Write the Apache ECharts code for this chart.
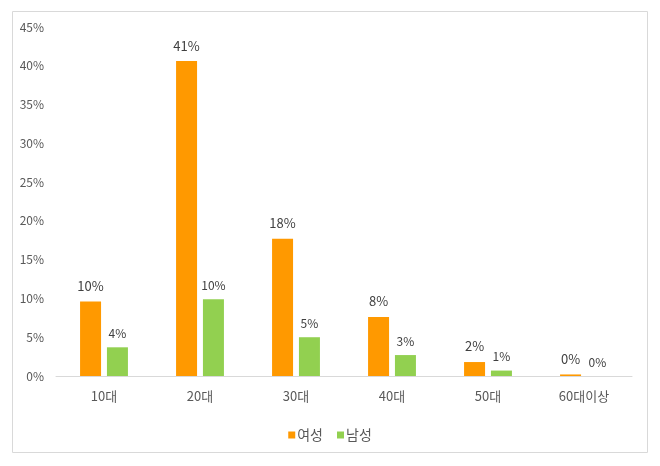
<!DOCTYPE html>
<html><head><meta charset="utf-8">
<script src="https://cdn.jsdelivr.net/npm/echarts@6/dist/echarts.min.js"></script>
<style>html,body{margin:0;padding:0;background:#fff}#c{width:660px;height:466px}</style>
</head><body><div id="c"></div>
<script>
const categories = ['10대','20대','30대','40대','50대','60대이상'];
const female = [9.6, 40.6, 17.7, 7.6, 1.8, 0.2];
const male = [3.7, 9.9, 5.0, 2.7, 0.7, 0.0];
const seriesNames = ['여성','남성'];
const yTicks = [0,5,10,15,20,25,30,35,40,45];

const font = '"Noto Sans CJK KR", "Noto Sans", sans-serif';
const chart = echarts.init(document.getElementById('c'));
chart.setOption({
  animation: false,
  graphic: [{type:'rect', shape:{x:12.5,y:11.5,width:635,height:441}, style:{fill:'none', stroke:'#d9d9d9', lineWidth:1}}],
  grid: {left:56, right:28, top:27, bottom:90},
  legend: {top:423, left:'center', itemWidth:7, itemHeight:7, itemGap:14, icon:'rect',
    textStyle:{color:'#595959', fontSize:14, fontFamily:font, padding:[0,0,0,-3]}, data: seriesNames},
  xAxis: {type:'category', data:categories,
    axisLine:{lineStyle:{color:'#d9d9d9'}}, axisTick:{show:false},
    axisLabel:{color:'#595959', fontSize:13, fontFamily:font, margin:14}},
  yAxis: {type:'value', min:yTicks[0], max:yTicks[yTicks.length-1], interval:5,
    splitLine:{show:false}, axisLine:{show:false}, axisTick:{show:false},
    axisLabel:{color:'#595959', fontSize:12, fontFamily:font, margin:12, formatter: v => v + '%'}},
  series: [
    {name:seriesNames[0], type:'bar', data:female, barWidth:21, barGap:'28%', itemStyle:{color:'#ff9900'},
      label:{show:true, position:'top', distance:9, color:'#404040', fontSize:13, fontFamily:font, formatter:p => Math.round(p.value)+'%'}},
    {name:seriesNames[1], type:'bar', data:male, barWidth:21, itemStyle:{color:'#92d050'},
      label:{show:true, position:'top', distance:8, color:'#404040', fontSize:12, fontFamily:font, formatter:p => Math.round(p.value)+'%'}}
  ]
});
</script></body></html>
